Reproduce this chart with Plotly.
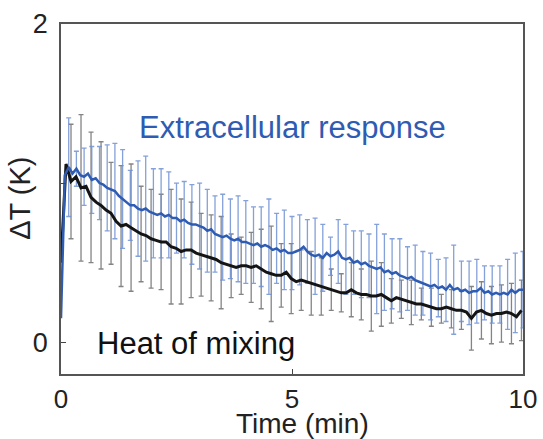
import numpy as np
import plotly.graph_objects as go

# Extracellular response (blue), sampled every 5 s (1/12 min), t = 0 .. 10 min
blue_y = [
    0.15, 1.05, 1.10, 1.06, 1.09, 1.05, 1.04, 1.06, 1.02, 1.03, 1.00, 0.99,
    0.97, 0.96, 0.95, 0.92, 0.90, 0.88, 0.86, 0.86, 0.84, 0.83, 0.84, 0.82,
    0.81, 0.80, 0.81, 0.79, 0.80, 0.78, 0.78, 0.76, 0.77, 0.75, 0.74, 0.74,
    0.73, 0.72, 0.70, 0.71, 0.68, 0.67, 0.66, 0.67, 0.65, 0.64, 0.65, 0.63,
    0.63, 0.62, 0.61, 0.62, 0.60, 0.61, 0.60, 0.58, 0.59, 0.57, 0.58, 0.56,
    0.56, 0.57, 0.58, 0.60, 0.57, 0.55, 0.54, 0.55, 0.53, 0.56, 0.54, 0.55,
    0.57, 0.53, 0.52, 0.53, 0.50, 0.51, 0.49, 0.50, 0.48, 0.47, 0.46, 0.47,
    0.44, 0.45, 0.43, 0.44, 0.42, 0.41, 0.40, 0.41, 0.39, 0.38, 0.37, 0.36,
    0.35, 0.36, 0.34, 0.35, 0.33, 0.36, 0.33, 0.34, 0.32, 0.33, 0.31, 0.32,
    0.32, 0.34, 0.31, 0.32, 0.30, 0.31, 0.30, 0.31, 0.30, 0.33, 0.31, 0.33,
    0.33,
]
# error bars every 10 s (every second sample, from t = 1/6 min)
blue_err = [
    0.31, 0.11, 0.18, 0.21, 0.23, 0.27, 0.30, 0.31, 0.22, 0.30, 0.33, 0.28,
    0.28, 0.27, 0.22, 0.24, 0.25, 0.27, 0.26, 0.24, 0.27, 0.25, 0.27, 0.26,
    0.24, 0.25, 0.30, 0.22, 0.25, 0.23, 0.22, 0.20, 0.24, 0.21, 0.12, 0.20,
    0.22, 0.20, 0.21, 0.20, 0.28, 0.24, 0.22, 0.23, 0.20, 0.22, 0.20, 0.21,
    0.18, 0.20, 0.28, 0.19, 0.20, 0.20, 0.17, 0.18, 0.18, 0.22, 0.25, 0.24,
]

# Heat of mixing (black), sampled every 6.5 s
black_y = [
    0.50, 1.12, 1.01, 1.04, 0.97, 0.98, 0.91, 0.88, 0.86, 0.83,
    0.81, 0.76, 0.73, 0.74, 0.72, 0.70, 0.68, 0.67, 0.65, 0.64,
    0.63, 0.63, 0.60, 0.59, 0.57, 0.58, 0.58, 0.56, 0.55, 0.54,
    0.53, 0.52, 0.50, 0.49, 0.48, 0.47, 0.48, 0.48, 0.47, 0.48,
    0.46, 0.44, 0.43, 0.42, 0.42, 0.44, 0.40, 0.38, 0.39, 0.38,
    0.37, 0.36, 0.35, 0.34, 0.33, 0.32, 0.31, 0.31, 0.33, 0.31,
    0.30, 0.30, 0.29, 0.29, 0.30, 0.28, 0.26, 0.28, 0.27, 0.26,
    0.25, 0.24, 0.24, 0.23, 0.22, 0.21, 0.21, 0.22, 0.21, 0.20,
    0.20, 0.19, 0.15, 0.19, 0.20, 0.18, 0.17, 0.18, 0.18, 0.19,
    0.18, 0.16, 0.20,
]
# error bars every 13 s (every second sample)
black_err = [
    0.36, 0.46, 0.41, 0.40, 0.32, 0.38, 0.40, 0.30, 0.31, 0.30,
    0.36, 0.33, 0.30, 0.26, 0.27, 0.29, 0.20, 0.18, 0.22, 0.25,
    0.30, 0.20, 0.22, 0.19, 0.20, 0.18, 0.13, 0.12, 0.17, 0.16,
    0.22, 0.20, 0.14, 0.12, 0.14, 0.10, 0.12, 0.09, 0.12, 0.12,
    0.20, 0.18, 0.18, 0.18, 0.19, 0.19,
]

blue_t = [k * 5 / 60 for k in range(len(blue_y))]
black_t = [k * 6.5 / 60 for k in range(len(black_y))]

BLUE = "#2f5cb3"
BLUE_BAR = "rgba(110,145,210,0.85)"
BLACK = "#141414"
GRAY_BAR = "rgba(110,110,110,0.85)"
FONT = "Liberation Sans, Arial, Helvetica, sans-serif"

fig = go.Figure()
fig.add_trace(go.Scatter(
    x=black_t[2::2], y=black_y[2::2], mode="markers",
    marker=dict(size=0.1, color=GRAY_BAR),
    error_y=dict(type="data", array=black_err, color=GRAY_BAR, thickness=1.3, width=2.5),
    hoverinfo="skip"))
fig.add_trace(go.Scatter(
    x=blue_t[2::2], y=blue_y[2::2], mode="markers",
    marker=dict(size=0.1, color=BLUE_BAR),
    error_y=dict(type="data", array=blue_err, color=BLUE_BAR, thickness=1.3, width=2.5),
    hoverinfo="skip"))
fig.add_trace(go.Scatter(x=black_t, y=black_y, mode="lines",
                         line=dict(color=BLACK, width=3)))
fig.add_trace(go.Scatter(x=blue_t, y=blue_y, mode="lines",
                         line=dict(color=BLUE, width=2.5)))

fig.add_annotation(x=5.02, y=1.35, text="Extracellular response", showarrow=False,
                   font=dict(family=FONT, size=31, color=BLUE), xanchor="center", yanchor="middle")
fig.add_annotation(x=2.92, y=-0.01, text="Heat of mixing", showarrow=False,
                   font=dict(family=FONT, size=31, color="#111"), xanchor="center", yanchor="middle")
# axis titles
fig.add_annotation(xref="paper", yref="paper", x=0.522, y=-0.142, text="Time (min)",
                   showarrow=False, font=dict(family=FONT, size=28, color="#222"),
                   xanchor="center", yanchor="middle", borderpad=0)
fig.add_annotation(xref="paper", yref="paper", x=-0.089, y=0.503, text="ΔT (K)",
                   textangle=-90, showarrow=False, font=dict(family=FONT, size=29, color="#222"),
                   xanchor="center", yanchor="middle", borderpad=0)

fig.update_layout(
    width=543, height=439,
    margin=dict(l=61, r=20, t=24, b=65),
    plot_bgcolor="white", paper_bgcolor="white",
    showlegend=False,
    font=dict(family=FONT, color="#222"),
)
fig.update_xaxes(
    range=[0, 10], tickvals=[0, 5, 10], ticktext=["0", "5", "10"],
    ticks="inside", ticklen=5, tickcolor="#444", tickwidth=1,
    showline=True, linecolor="#555", linewidth=1.5, mirror=True,
    showgrid=False, zeroline=False, automargin=False,
    tickfont=dict(family=FONT, size=26, color="#222"),
    ticklabelstandoff=1,
)
fig.update_yaxes(
    range=[-0.2, 2], tickvals=[0, 1, 2], ticktext=["0", "", "2"],
    ticks="inside", ticklen=5, tickcolor="#444", tickwidth=1,
    showline=True, linecolor="#555", linewidth=1.5, mirror=True,
    showgrid=False, zeroline=False, automargin=False,
    tickfont=dict(family=FONT, size=27, color="#222"),
    ticklabelstandoff=6,
)

fig.write_html("out.html")
